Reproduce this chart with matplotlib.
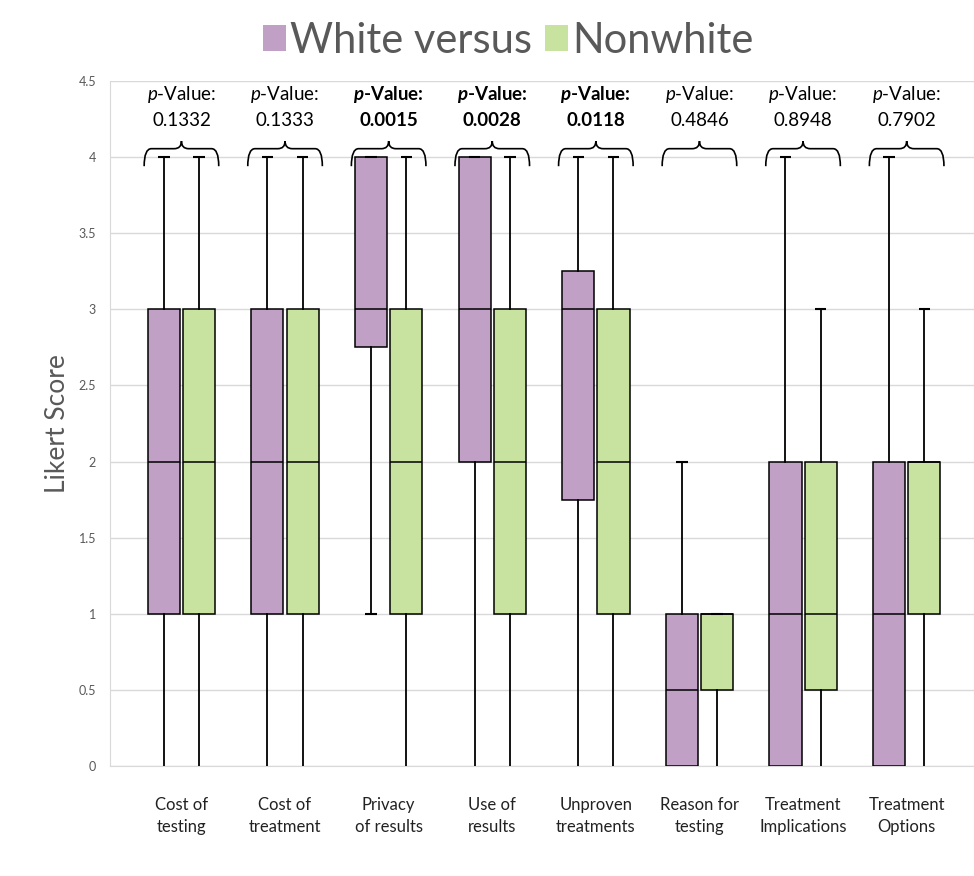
import numpy as np
import matplotlib.pyplot as plt
from matplotlib.patches import Patch, PathPatch
from matplotlib.path import Path

plt.rcParams['font.family'] = ['Lato', 'DejaVu Sans']
plt.rcParams['mathtext.fontset'] = 'custom'
plt.rcParams['mathtext.it'] = 'Lato:italic'
plt.rcParams['mathtext.bf'] = 'Lato:bold'
plt.rcParams['mathtext.bfit'] = 'Lato:bold:italic'

# data
categories = ["Cost of\ntesting", "Cost of\ntreatment", "Privacy\nof results", "Use of\nresults",
              "Unproven\ntreatments", "Reason for\ntesting", "Treatment\nImplications", "Treatment\nOptions"]
white_lo = [0, 0, 1, 0, 0, 0, 0, 0]
white_q1 = [1, 1, 2.75, 2, 1.75, 0, 0, 0]
white_med = [2, 2, 3, 3, 3, 0.5, 1, 1]
white_q3 = [3, 3, 4, 4, 3.25, 1, 2, 2]
white_hi = [4, 4, 4, 4, 4, 2, 4, 4]
nonwhite_lo = [0, 0, 0, 0, 0, 0, 0, 0]
nonwhite_q1 = [1, 1, 1, 1, 1, 0.5, 0.5, 1]
nonwhite_med = [2, 2, 2, 2, 2, 1, 1, 2]
nonwhite_q3 = [3, 3, 3, 3, 3, 1, 2, 2]
nonwhite_hi = [4, 4, 4, 4, 4, 1, 3, 3]
p_values = ["0.1332", "0.1333", "0.0015", "0.0028", "0.0118", "0.4846", "0.8948", "0.7902"]
significant = [False, False, True, True, True, False, False, False]

purple = "#C0A0C5"
green = "#C7E39F"
gray = "#595959"

fig = plt.figure(figsize=(9.74, 8.76), dpi=100)
ax = fig.add_axes([0.1129, 0.1256, 0.8871, 0.782])

x = np.arange(len(categories))
off = 0.17
bw = 0.31


def make_stats(lo, q1, med, q3, hi):
    return [dict(whislo=a, q1=b, med=c, q3=d, whishi=e, fliers=[])
            for a, b, c, d, e in zip(lo, q1, med, q3, hi)]


for stats, pos, col in [(make_stats(white_lo, white_q1, white_med, white_q3, white_hi), x - off, purple),
                        (make_stats(nonwhite_lo, nonwhite_q1, nonwhite_med, nonwhite_q3, nonwhite_hi), x + off, green)]:
    ax.bxp(stats, positions=pos, widths=bw, patch_artist=True, showcaps=False, showfliers=False,
           boxprops=dict(facecolor=col, edgecolor='black', linewidth=1.1),
           medianprops=dict(color='black', linewidth=1.1),
           whiskerprops=dict(color='black', linewidth=1.3), zorder=3)
    # caps only where whisker ends above zero
    for s, p in zip(stats, pos):
        for v in (s['whislo'], s['whishi']):
            if v > 0:
                ax.hlines(v, p - 0.055, p + 0.055, color='black', linewidth=1.5, zorder=3)

# p-value braces and labels
def brace(xc, w=0.36, y_end=3.94, y_bar=4.055, y_tip=4.105, r=0.07):
    verts = [(xc - w, y_end), (xc - w, y_bar), (xc - w + r, y_bar),
             (xc - r, y_bar),
             (xc, y_bar), (xc, y_tip),
             (xc, y_bar), (xc + r, y_bar),
             (xc + w - r, y_bar),
             (xc + w, y_bar), (xc + w, y_end)]
    codes = [Path.MOVETO, Path.CURVE3, Path.CURVE3, Path.LINETO,
             Path.CURVE3, Path.CURVE3, Path.CURVE3, Path.CURVE3,
             Path.LINETO, Path.CURVE3, Path.CURVE3]
    ax.add_patch(PathPatch(Path(verts, codes), facecolor='none', edgecolor='black',
                           linewidth=1.2, zorder=4, clip_on=False))


for i, (pv, sig) in enumerate(zip(p_values, significant)):
    brace(x[i])
    wt = 'bold' if sig else 'normal'
    lab = r"$\mathbfit{p}$-Value:" if sig else r"$\mathit{p}$-Value:"
    ax.text(x[i], 4.41, lab, ha='center', va='center', fontsize=13.5, fontweight=wt, color='black')
    ax.text(x[i], 4.24, pv, ha='center', va='center', fontsize=13.5, fontweight=wt, color='black')

ax.set_xlim(-0.69, 7.65)
ax.set_ylim(0, 4.5)
ax.set_yticks(np.arange(0, 4.51, 0.5))
ax.set_yticklabels(["0", "0.5", "1", "1.5", "2", "2.5", "3", "3.5", "4", "4.5"])
ax.set_xticks(x)
ax.set_xticklabels(categories, fontsize=12, color='#222222', linespacing=1.5)
ax.tick_params(axis='both', length=0)
ax.tick_params(axis='y', labelsize=9, labelcolor=gray, pad=10)
ax.tick_params(axis='x', pad=22)
ax.grid(axis='y', color='#d9d9d9', linewidth=1)
ax.set_axisbelow(True)
for s in ['top', 'right']:
    ax.spines[s].set_visible(False)
for s in ['left', 'bottom']:
    ax.spines[s].set_color('#d9d9d9')
ax.set_ylabel("Likert Score", fontsize=19, color=gray, labelpad=6)

handles = [Patch(facecolor=purple, label="White versus"), Patch(facecolor=green, label="Nonwhite")]
fig.legend(handles=handles, loc='upper center', bbox_to_anchor=(0.522, 1.018), ncol=2, frameon=False,
           fontsize=30, labelcolor=gray, handlelength=0.55, handleheight=0.55, handletextpad=0.1,
           columnspacing=0.3)

plt.savefig('out.png', dpi=100)
